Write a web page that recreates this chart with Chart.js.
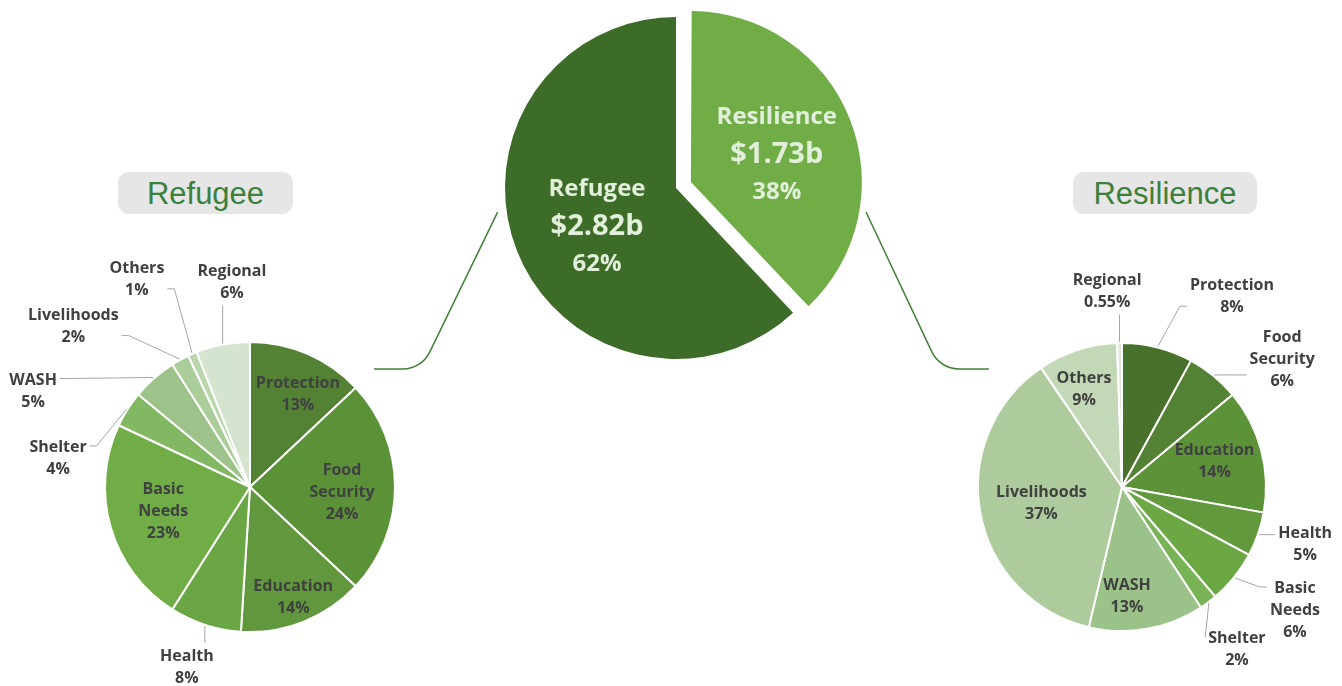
<!DOCTYPE html>
<html>
<head>
<meta charset="utf-8">
<title>Refugee and Resilience requirements</title>
<script src="https://cdn.jsdelivr.net/npm/chart.js@4.4.1/dist/chart.umd.min.js"></script>
<style>
  html, body { margin:0; padding:0; background:#ffffff; }
  #wrap { position:relative; width:1342px; height:686px; overflow:hidden; }
  #wrap canvas { position:absolute; left:0; top:0; }
  .tbox { position:absolute; top:172px; height:42px; line-height:43px; background:#e6e6e6; border-radius:11px;
          color:#3b803b; font-family:"Liberation Sans", Arial, sans-serif; font-size:31px; text-align:center; }
</style>
</head>
<body>
<div id="wrap">
  <div class="tbox" id="tLeft" style="left:118px;width:175px;"></div>
  <div class="tbox" id="tRight" style="left:1073px;width:184px;"></div>
  <canvas id="cLeft" width="1342" height="686"></canvas>
  <canvas id="cRight" width="1342" height="686"></canvas>
  <canvas id="cCenter" width="1342" height="686"></canvas>
</div>
<script>
// ---------------- DATA ----------------
const overallCategories = ['Resilience', 'Refugee'];
const overallShares = [38, 62];
const overallAmounts = ['$1.73b', '$2.82b'];

const sectorCategories = ['Protection', 'Food Security', 'Education', 'Health', 'Basic Needs',
                          'Shelter', 'WASH', 'Livelihoods', 'Others', 'Regional'];
const refugeeShares = [13, 24, 14, 8, 23, 4, 5, 2, 1, 6];
const resilienceShares = [8, 6, 14, 5, 6, 2, 13, 37, 9, 0.55];

// ---------------- STYLE ----------------
const W = 1342, H = 686;
const centerColors = ['#70ad47', '#3d6b28'];
const centerOffsets = [64, 0];   // Chart.js translates an arc by offset/4 px
const refugeeColors = ['#548235', '#5b9237', '#62983d', '#6aa643', '#70ad47',
                       '#82b862', '#9dc38b', '#aacd99', '#bad6ad', '#d5e4ce'];
const resilienceColors = ['#48722b', '#548235', '#5c9339', '#63993d', '#6ba843',
                          '#78b356', '#9bc289', '#adcb9d', '#c2d8b7', '#e1ebdb'];
const pieGeom = {
  center: { cx: 676, cy: 188, r: 171 },
  refugee: { cx: 250, cy: 487, r: 145 },
  resilience: { cx: 1122, cy: 487, r: 144 }
};
// label placement: k = radial distance (fraction of radius), da = angular shift (deg), out = outside with leader
const centerPlacement = [ { k: 0.53, da: 2.5 }, { k: 0.51, da: -3.5 } ];
const refugeePlacement = [
  { k: 0.73, da: 3.5 }, { k: 0.635, da: 2.2 }, { k: 0.81, da: 0 }, { k: 1.31, da: 1.4, out: true },
  { k: 0.62, da: 1.1 }, { k: 1.34, da: -23.5, out: true }, { k: 1.64, da: -24.4, out: true },
  { k: 1.655, da: -18.6, out: true }, { k: 1.64, da: -5, out: true }, { k: 1.43, da: 5.8, out: true }
];
const resiliencePlacement = [
  { k: 1.535, da: 15.5, out: true }, { k: 1.43, da: 11.7, out: true }, { k: 0.67, da: -1.7 },
  { k: 1.33, da: -2.2, out: true }, { k: 1.47, da: -3.7, out: true }, { k: 1.375, da: 1.3, out: true },
  { k: 0.75, da: 7.3 }, { k: 0.57, da: -0.4 }, { k: 0.74, da: -2.8 }, { k: 1.375, da: -3.3, out: true }
];
const FONT = '"Open Sans", Lato, sans-serif';
const TEXT_NUDGE = 1.5;

document.getElementById('tLeft').textContent = overallCategories[1];
document.getElementById('tRight').textContent = overallCategories[0];

function sectorLines(cats, vals) {
  return cats.map((c, i) => c.split(' ').map(t => ({ text: t, size: 16 }))
    .concat([{ text: vals[i] + '%', size: 16 }]));
}
const centerLines = overallCategories.map((c, i) => [
  { text: c, size: 24 }, { text: overallAmounts[i], size: 29 }, { text: overallShares[i] + '%', size: 24 }
]);

// ---------------- PLUGINS ----------------
// keep an exploded slice at the same radius as the others (Chart.js enlarges offset arcs)
const keepRadiusPlugin = {
  id: 'keepRadius',
  afterDatasetsUpdate(chart) {
    chart.getDatasetMeta(0).data.forEach(arc => {
      const off = (arc.options.offset || 0) / 4;
      if (!off) return;
      const fix = 1 - Math.sin(Math.min(Math.PI, arc.circumference || 0));
      arc.outerRadius -= off * fix;
    });
  }
};

const sliceLabelPlugin = {
  id: 'sliceLabels',
  afterDatasetsDraw(chart, args, opts) {
    if (!opts || !opts.placement) return;
    const ctx = chart.ctx;
    const meta = chart.getDatasetMeta(0);
    ctx.save();
    meta.data.forEach((arc, i) => {
      const place = opts.placement[i];
      const lines = opts.lines[i];
      const mid = (arc.startAngle + arc.endAngle) / 2;
      const off = (arc.options.offset || 0) / 4;
      const R = opts.radius;
      const a = mid + place.da * Math.PI / 180;
      const d = place.k * R + off;
      const bx = arc.x + Math.cos(a) * d;
      const by = arc.y + Math.sin(a) * d;
      const lh = opts.lineHeight;
      const n = lines.length;
      const ys = lines.map((ln, j) => by + (j - (n - 1) / 2) * lh);
      let maxW = 0;
      ctx.textAlign = 'center';
      ctx.textBaseline = 'middle';
      ctx.fillStyle = opts.color;
      lines.forEach((ln, j) => {
        ctx.font = 'bold ' + ln.size + 'px ' + FONT;
        maxW = Math.max(maxW, ctx.measureText(ln.text).width);
        ctx.fillText(ln.text, bx, ys[j] + TEXT_NUDGE);
      });
      if (place.out) {
        const ex = arc.x + Math.cos(mid) * (R + 1);
        const ey = arc.y + Math.sin(mid) * (R + 1);
        const dx = bx - ex, dy = by - ey;
        ctx.strokeStyle = opts.leaderColor;
        ctx.lineWidth = 1;
        ctx.beginPath();
        ctx.moveTo(ex, ey);
        if (Math.abs(dx) >= Math.abs(dy) * 0.5) {
          const side = dx < 0 ? 1 : -1;
          const ax = bx + side * (maxW / 2 + 3);
          const ay = Math.min(Math.max(ey, ys[0]), ys[n - 1]);
          if (Math.abs(ex - ax) > 14) ctx.lineTo(ax + side * 7, ay);
          ctx.lineTo(ax, ay);
        } else {
          const ay = dy < 0 ? ys[n - 1] + 14 : ys[0] - 12;
          const ax = Math.min(Math.max(ex, bx - maxW / 2), bx + maxW / 2);
          ctx.lineTo(ax, ay);
        }
        ctx.stroke();
      }
    });
    ctx.restore();
  }
};

let leftChart, rightChart;
function drawConnector(ctx, p0, dir, hy, endX, rad) {
  const t = (hy - p0.y) / dir.y;
  const cx = p0.x + dir.x * t;
  ctx.beginPath();
  ctx.moveTo(p0.x, p0.y);
  ctx.arcTo(cx, hy, endX, hy, rad);
  ctx.lineTo(endX, hy);
  ctx.stroke();
}
const connectorPlugin = {
  id: 'connectors',
  afterDraw(chart) {
    if (!leftChart || !rightChart) return;
    const c = chart.getDatasetMeta(0).data[1];
    const L = leftChart.getDatasetMeta(0).data[0];
    const Rt = rightChart.getDatasetMeta(0).data[0];
    const ctx = chart.ctx;
    ctx.save();
    ctx.strokeStyle = '#437f38';
    ctx.lineWidth = 1.5;
    const toPt = (deg, dist) => {
      const a = (deg - 90) * Math.PI / 180;
      return { x: c.x + Math.cos(a) * dist, y: c.y + Math.sin(a) * dist };
    };
    drawConnector(ctx, toPt(262.3, c.outerRadius + 9), { x: -66, y: 136 },
      L.y - 0.814 * L.outerRadius, L.x + 0.855 * L.outerRadius, 30);
    drawConnector(ctx, toPt(97.2, c.outerRadius + 20.5), { x: 64, y: 136 },
      Rt.y - 0.82 * Rt.outerRadius, Rt.x - 0.924 * Rt.outerRadius, 30);
    ctx.restore();
  }
};

function pieOptions(geom, labelOpts) {
  labelOpts.radius = geom.r;
  return {
    responsive: false,
    animation: false,
    events: [],
    radius: geom.r,
    layout: { padding: { left: geom.cx - geom.r, right: W - geom.cx - geom.r,
                         top: geom.cy - geom.r, bottom: H - geom.cy - geom.r } },
    plugins: { legend: { display: false }, tooltip: { enabled: false }, sliceLabels: labelOpts }
  };
}

leftChart = new Chart(document.getElementById('cLeft'), {
  type: 'pie',
  data: { labels: sectorCategories,
          datasets: [{ data: refugeeShares, backgroundColor: refugeeColors, borderColor: '#ffffff', borderWidth: 2 }] },
  options: pieOptions(pieGeom.refugee, { placement: refugeePlacement, lines: sectorLines(sectorCategories, refugeeShares),
    lineHeight: 22, color: '#404040', leaderColor: '#a6a6a6' }),
  plugins: [sliceLabelPlugin]
});

rightChart = new Chart(document.getElementById('cRight'), {
  type: 'pie',
  data: { labels: sectorCategories,
          datasets: [{ data: resilienceShares, backgroundColor: resilienceColors, borderColor: '#ffffff', borderWidth: 2 }] },
  options: pieOptions(pieGeom.resilience, { placement: resiliencePlacement, lines: sectorLines(sectorCategories, resilienceShares),
    lineHeight: 22, color: '#404040', leaderColor: '#a6a6a6' }),
  plugins: [sliceLabelPlugin]
});

new Chart(document.getElementById('cCenter'), {
  type: 'pie',
  data: { labels: overallCategories,
          datasets: [{ data: overallShares, backgroundColor: centerColors, borderWidth: 0, offset: centerOffsets }] },
  options: pieOptions(pieGeom.center, { placement: centerPlacement, lines: centerLines,
    lineHeight: 37.5, color: '#e2efda', leaderColor: '#a6a6a6' }),
  plugins: [keepRadiusPlugin, sliceLabelPlugin, connectorPlugin]
});
</script>
</body>
</html>
